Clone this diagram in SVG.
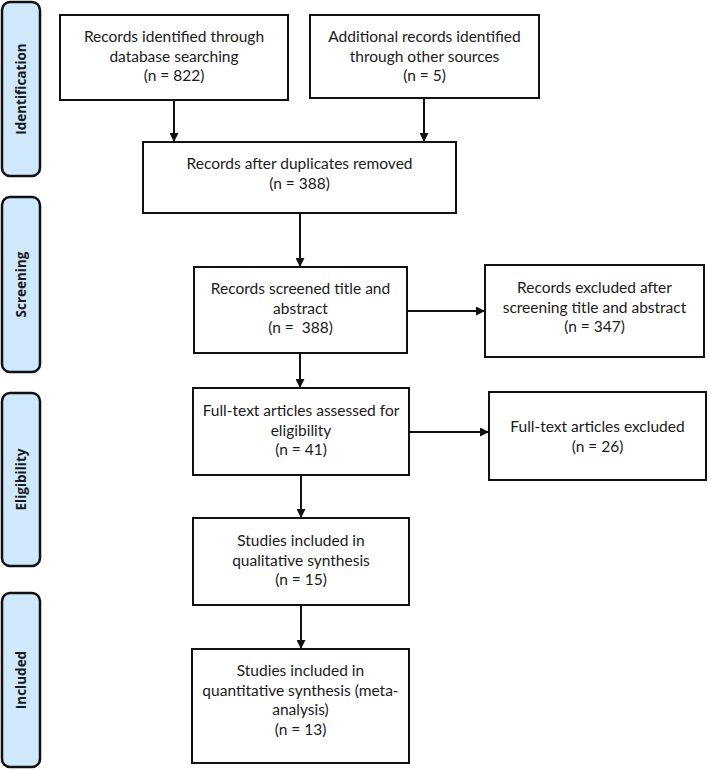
<svg xmlns="http://www.w3.org/2000/svg" width="709" height="770" viewBox="0 0 709 770">
<defs>
<style>
.box{fill:#fff;stroke:#111;stroke-width:2}
.side{fill:#cfe8fb;stroke:#111;stroke-width:2.5}
.t{font-family:Lato,"Liberation Sans",sans-serif;font-size:15.5px;fill:#1a1a1a;text-anchor:middle}
.s{font-family:"Open Sans","DejaVu Sans",sans-serif;font-weight:700;font-size:13.5px;fill:#1a1a1a;text-anchor:middle}
.c{stroke:#111;stroke-width:2;fill:none;marker-end:url(#ah)}
</style>
<marker id="ah" markerUnits="userSpaceOnUse" markerWidth="9" markerHeight="9" refX="9" refY="4.5" orient="auto">
<path d="M0,0 L9,4.5 L0,9 z" fill="#111"/>
</marker>
</defs>
<rect width="709" height="770" fill="#fff"/>
<g id="phase-identification"><rect class="side" x="2" y="2" width="38" height="174" rx="8"/><text class="s" transform="translate(25.5,89) rotate(-90)">Identification</text></g>
<g id="phase-screening"><rect class="side" x="2" y="197" width="38" height="175" rx="8"/><text class="s" transform="translate(25.5,284.5) rotate(-90)">Screening</text></g>
<g id="phase-eligibility"><rect class="side" x="2" y="393" width="38" height="173" rx="8"/><text class="s" transform="translate(25.5,479.5) rotate(-90)">Eligibility</text></g>
<g id="phase-included"><rect class="side" x="2" y="593" width="38" height="174" rx="8"/><text class="s" transform="translate(25.5,680) rotate(-90)">Included</text></g>

<g id="connectors">
<line class="c" x1="174" y1="100" x2="174" y2="142"/>
<line class="c" x1="424" y1="98" x2="424" y2="142"/>
<line class="c" x1="300" y1="213" x2="300" y2="267"/>
<line class="c" x1="300" y1="353" x2="300" y2="388"/>
<line class="c" x1="301" y1="475" x2="301" y2="518"/>
<line class="c" x1="301" y1="605" x2="301" y2="649"/>
<line class="c" x1="407" y1="311" x2="485" y2="311"/>
<line class="c" x1="409" y1="432" x2="489" y2="432"/>
</g>

<g id="n-db"><rect class="box" x="60" y="15" width="228" height="85"/>
<text class="t" x="174" y="42">Records identified through</text>
<text class="t" x="174" y="61.5">database searching</text>
<text class="t" x="174" y="81">(n = 822)</text></g>

<g id="n-other"><rect class="box" x="310" y="15" width="229" height="83"/>
<text class="t" x="424.5" y="42">Additional records identified</text>
<text class="t" x="424.5" y="61.5">through other sources</text>
<text class="t" x="424.5" y="81">(n = 5)</text></g>

<g id="n-dup"><rect class="box" x="143" y="142" width="313" height="71"/>
<text class="t" x="299.5" y="169">Records after duplicates removed</text>
<text class="t" x="299.5" y="188.5">(n = 388)</text></g>

<g id="n-screened"><rect class="box" x="194" y="267" width="213" height="86"/>
<text class="t" x="300.5" y="294">Records screened title and</text>
<text class="t" x="300.5" y="313.5">abstract</text>
<text class="t" x="300.5" y="333" xml:space="preserve">(n =  388)</text></g>

<g id="n-excl1"><rect class="box" x="485" y="265" width="219" height="92"/>
<text class="t" x="594.5" y="293">Records excluded after</text>
<text class="t" x="594.5" y="312.5">screening title and abstract</text>
<text class="t" x="594.5" y="332">(n = 347)</text></g>

<g id="n-fulltext"><rect class="box" x="193" y="388" width="216" height="87"/>
<text class="t" x="301" y="416">Full-text articles assessed for</text>
<text class="t" x="301" y="435.5">eligibility</text>
<text class="t" x="301" y="455">(n = 41)</text></g>

<g id="n-excl2"><rect class="box" x="489" y="392" width="217" height="88"/>
<text class="t" x="597.5" y="432">Full-text articles excluded</text>
<text class="t" x="597.5" y="452">(n = 26)</text></g>

<g id="n-qual"><rect class="box" x="193" y="518" width="216" height="87"/>
<text class="t" x="301" y="546">Studies included in</text>
<text class="t" x="301" y="565.5">qualitative synthesis</text>
<text class="t" x="301" y="585">(n = 15)</text></g>

<g id="n-quant"><rect class="box" x="192" y="649" width="217" height="114"/>
<text class="t" x="300.5" y="676">Studies included in</text>
<text class="t" x="300.5" y="695.5">quantitative synthesis (meta-</text>
<text class="t" x="300.5" y="715">analysis)</text>
<text class="t" x="300.5" y="734.5">(n = 13)</text></g>
</svg>
